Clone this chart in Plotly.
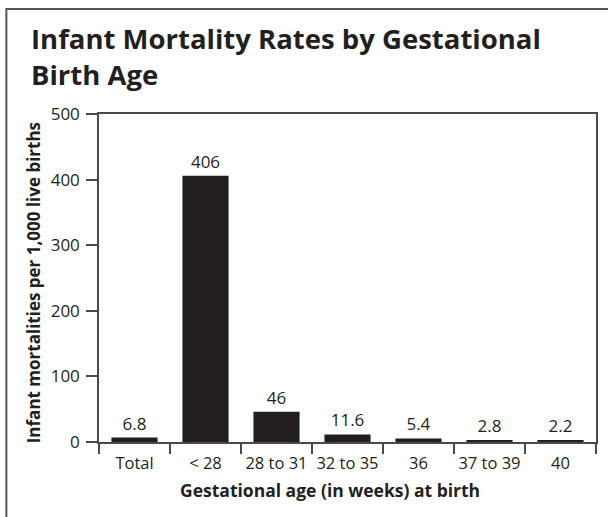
import plotly.graph_objects as go

categories = ["Total", "< 28", "28 to 31", "32 to 35", "36", "37 to 39", "40"]
rates = [6.8, 406, 46, 11.6, 5.4, 2.8, 2.2]
y_ticks = [0, 100, 200, 300, 400, 500]

INK = "#231f20"
AXIS = "#4a4a4a"
FONT = "Open Sans, Noto Sans, Arial, sans-serif"

W, H = 608, 517
L, R, T, B = 99, 10, 114, 75
pw, ph = W - L - R, H - T - B

def px_x(x):
    return (x - L) / pw

def px_y(y):
    return (H - B - y) / ph

fig = go.Figure()
fig.add_trace(go.Bar(
    x=categories, y=rates,
    marker=dict(color=INK, line=dict(width=0)),
    text=[f"{v:g}" for v in rates], textposition="outside",
    textfont=dict(family=FONT, size=17, color=INK),
    cliponaxis=False,
))

fig.update_layout(
    width=W, height=H,
    margin=dict(l=L, r=R, t=T, b=B, pad=0),
    paper_bgcolor="white", plot_bgcolor="white",
    showlegend=False, bargap=0.35,
    font=dict(family=FONT, color=INK),
)
fig.update_xaxes(
    showline=True, linecolor=AXIS, linewidth=1.5, mirror=True,
    ticks="outside", tickson="boundaries", ticklen=10, tickcolor=AXIS, tickwidth=1.5,
    tickangle=0, ticklabelstandoff=5,
    tickfont=dict(family=FONT, size=16.5, color=INK), showgrid=False,
)
fig.update_yaxes(
    range=[0, 500], tickvals=y_ticks,
    showline=True, linecolor=AXIS, linewidth=1.5, mirror=True,
    ticks="outside", ticklen=11, tickcolor=AXIS, tickwidth=1.5,
    ticklabelstandoff=3,
    tickfont=dict(family=FONT, size=17, color=INK), showgrid=False, zeroline=False,
)

fig.add_annotation(
    text="<b>Infant Mortality Rates by Gestational<br>Birth Age</b>",
    xref="paper", yref="paper", x=px_x(29), y=px_y(18),
    xanchor="left", yanchor="top", align="left", showarrow=False,
    font=dict(family=FONT, size=27.5, color=INK),
)
fig.add_annotation(
    text="<b>Gestational age (in weeks) at birth</b>",
    xref="paper", yref="paper", x=px_x(331), y=px_y(490),
    xanchor="center", yanchor="middle", showarrow=False,
    font=dict(family=FONT, size=17.5, color=INK),
)
fig.add_annotation(
    text="<b>Infant mortalities per 1,000 live births</b>",
    xref="paper", yref="paper", x=px_x(33), y=px_y(283),
    xanchor="center", yanchor="middle", showarrow=False, textangle=-90,
    font=dict(family=FONT, size=17, color=INK),
)

fig.add_shape(
    type="rect", xref="paper", yref="paper",
    x0=px_x(6), x1=px_x(620), y0=px_y(530), y1=px_y(9),
    line=dict(color="#555555", width=2), fillcolor="rgba(0,0,0,0)", layer="below",
)

fig.write_html("out.html", config={"displayModeBar": False},
               post_script="document.body.style.margin='0';")
